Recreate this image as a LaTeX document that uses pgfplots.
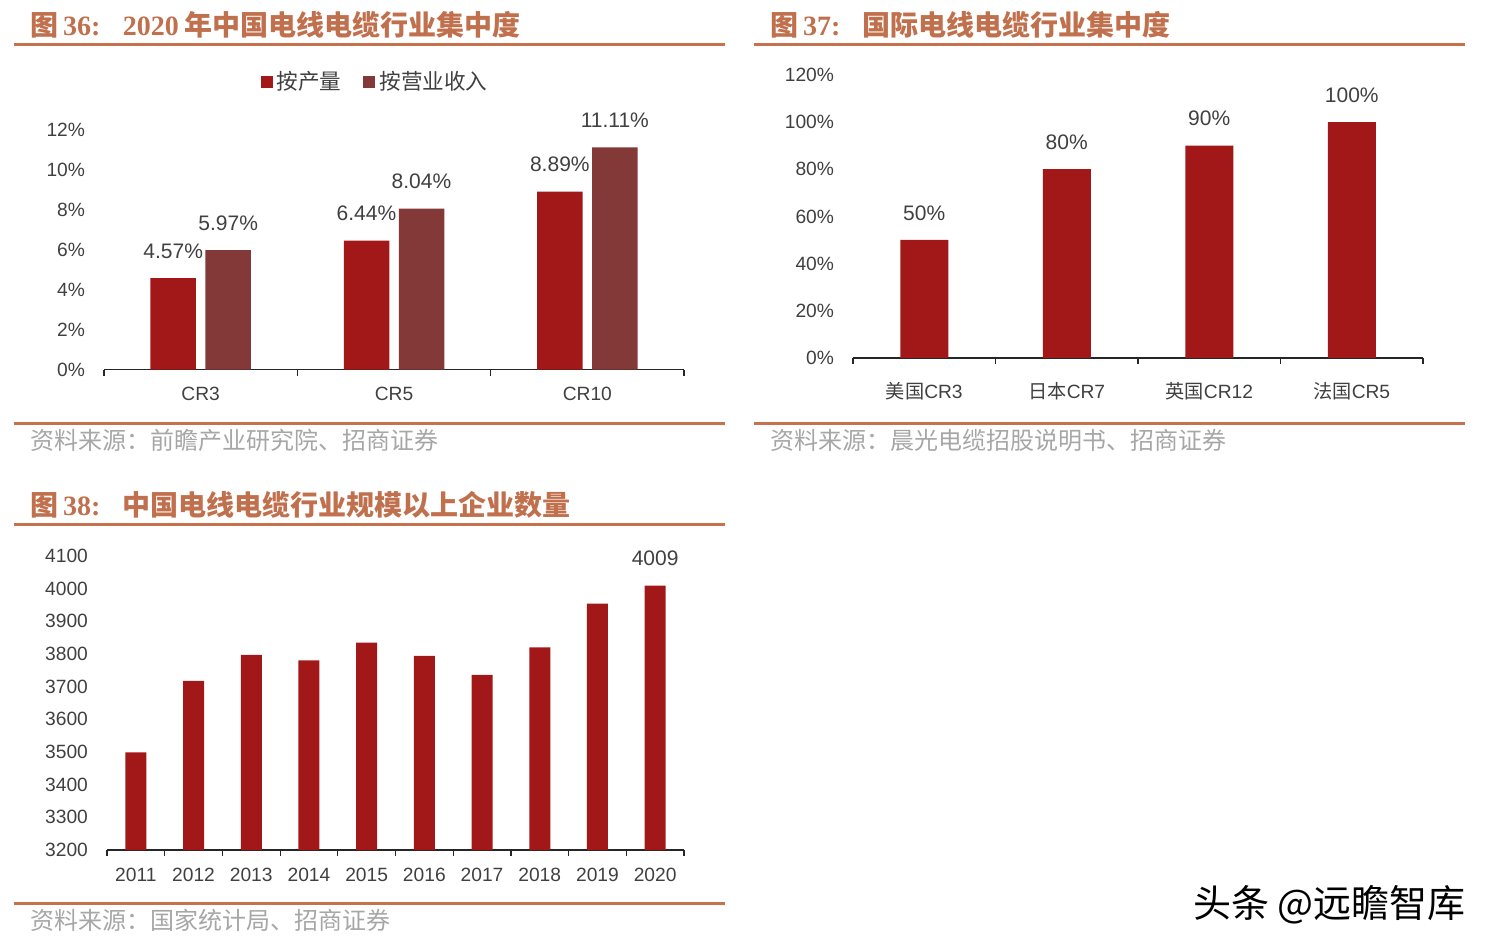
\documentclass[border=0pt]{standalone}
\usepackage{pgfplots}
\pgfplotsset{compat=1.18}
\usepackage{fontspec}
\setmainfont{Liberation Sans}
\newfontfamily\cjk{Noto Sans CJK SC}
\newfontfamily\tnr{Liberation Serif}
\definecolor{barred}{HTML}{A21818}
\definecolor{barbrown}{HTML}{833937}
\definecolor{rulecol}{HTML}{C8714F}
\definecolor{titlecol}{HTML}{C0704C}
\definecolor{srccol}{HTML}{A6A6A6}
\definecolor{txt}{HTML}{404040}

\pgfplotsset{
  panel/.style={
    scale only axis, anchor=south west, clip=false,
    axis x line*=bottom, axis y line*=left,
    y axis line style={draw=none},
    x axis line style={draw=black!85, line width=0.75pt},
    major tick length=0pt,
    minor tick length=3pt, tick align=inside,
    minor x tick style={draw=black!85, line width=0.6pt},
    ticklabel style={text=txt, font=\fontsize{9.6}{11}\selectfont},
    yticklabel style={anchor=east, xshift=-6pt},
    xticklabel style={yshift=-5.5pt},
    /pgf/number format/assume math mode=true,
    nodes near coords style={text=txt, font=\fontsize{10.5}{12}\selectfont, anchor=center, yshift=13.5pt},
  },
  sqlegend/.style={legend image code/.code={\fill[##1] (0pt,-3pt) rectangle (6pt,3pt);}},
}

\begin{document}
\begin{tikzpicture}
\path[use as bounding box] (0,0) rectangle (746pt,-475pt);

% ---- chart 36
\begin{axis}[panel, at={(52pt,-184.75pt)}, width=290pt, height=120pt,
  xmin=-0.5, xmax=2.5, ymin=0, ymax=12,
  xtick={0,1,2}, xticklabels={CR3,CR5,CR10},
  minor xtick={-0.5,0.5,1.5,2.5},
  ytick={0,2,...,12}, yticklabel={\pgfmathprintnumber{\tick}\%},
  ybar=4.75pt, bar width=22.75pt,
  nodes near coords={\pgfmathprintnumber[fixed,fixed zerofill,precision=2]{\pgfplotspointmeta}\%},
  legend style={at={(0.469,1.199)}, anchor=center, draw=none, fill=none,
    legend columns=2, font=\fontsize{10.8}{12}\selectfont\cjk, text=txt,
    /tikz/every even column/.append style={column sep=9pt}},
]
\addplot[fill=barred, draw=none, sqlegend]
  coordinates {(0,4.57) (1,6.44) (2,8.89)};
\addlegendentry{按产量}
\addplot[fill=barbrown, draw=none, sqlegend]
  coordinates {(0,5.97) (1,8.04) (2,11.11)};
\addlegendentry{按营业收入}
\end{axis}

% ---- chart 37
\begin{axis}[panel, at={(426.5pt,-178.95pt)}, width=285pt, height=141.5pt,
  xmin=-0.5, xmax=3.5, ymin=0, ymax=120,
  xtick={0,1,2,3}, xticklabels={{\cjk 美国}CR3,{\cjk 日本}CR7,{\cjk 英国}CR12,{\cjk 法国}CR5},
  xticklabel style={yshift=-3pt},
  minor xtick={-0.5,0.5,1.5,2.5,3.5},
  ytick={0,20,...,120}, yticklabel={\pgfmathprintnumber{\tick}\%},
  ybar, bar width=24pt,
  nodes near coords={\pgfmathprintnumber{\pgfplotspointmeta}\%},
]
\addplot[fill=barred, draw=none] coordinates {(0,50) (1,80) (2,90) (3,100)};
\end{axis}

% ---- chart 38
\begin{axis}[panel, clip=true, at={(53.5pt,-425pt)}, width=288.5pt, height=155.3pt,
  xmin=-0.5, xmax=9.5, ymin=3200, ymax=4150,
  xtick={0,...,9}, xticklabels={2011,2012,2013,2014,2015,2016,2017,2018,2019,2020},
  minor xtick={-0.5,0.5,...,9.5},
  ytick={3200,3300,...,4100},
  /pgf/number format/1000 sep={},
  ybar, bar width=10.5pt,
  point meta=explicit symbolic, nodes near coords,
]
\addplot[fill=barred, draw=none] coordinates {
  (0,3499) [] (1,3717) [] (2,3797) [] (3,3780) [] (4,3834) []
  (5,3794) [] (6,3736) [] (7,3820) [] (8,3954) [] (9,4009) [4009]};
\end{axis}

\begin{scope}[x=0.5pt, y=-0.5pt]
  \draw[rulecol, line width=1.5pt] (14,44) -- (725,44);
  \draw[rulecol, line width=1.5pt] (14,423) -- (725,423);
  \draw[rulecol, line width=1.5pt] (754,44) -- (1465,44);
  \draw[rulecol, line width=1.5pt] (754,423) -- (1465,423);
  \draw[rulecol, line width=1.5pt] (14,524) -- (725,524);
  \draw[rulecol, line width=1.5pt] (14,903) -- (725,903);

  \node[anchor=west, text=titlecol, inner sep=0pt, font=\fontsize{14}{16}\selectfont] at (30,25)
    {{\cjk\bfseries 图}\,{\tnr\bfseries 36:}\hspace{0.8em}{\tnr\bfseries 2020}\hspace{0.2em}{\cjk\bfseries 年中国电线电缆行业集中度}};
  \node[anchor=west, text=titlecol, inner sep=0pt, font=\fontsize{14}{16}\selectfont] at (770,25)
    {{\cjk\bfseries 图}\,{\tnr\bfseries 37:}\hspace{0.8em}{\cjk\bfseries 国际电线电缆行业集中度}};
  \node[anchor=west, text=titlecol, inner sep=0pt, font=\fontsize{14}{16}\selectfont] at (30,505)
    {{\cjk\bfseries 图}\,{\tnr\bfseries 38:}\hspace{0.8em}{\cjk\bfseries 中国电线电缆行业规模以上企业数量}};

  \node[anchor=west, text=srccol, inner sep=0pt, font=\fontsize{12}{14}\selectfont\cjk] at (30,440)
    {资料来源：前瞻产业研究院、招商证券};
  \node[anchor=west, text=srccol, inner sep=0pt, font=\fontsize{12}{14}\selectfont\cjk] at (770,440)
    {资料来源：晨光电缆招股说明书、招商证券};
  \node[anchor=west, text=srccol, inner sep=0pt, font=\fontsize{12}{14}\selectfont\cjk] at (30,920)
    {资料来源：国家统计局、招商证券};

  \node[anchor=east, text=black, inner sep=0pt, font=\fontsize{19}{21}\selectfont\cjk] at (1466,905)
    {头条 @远瞻智库};
\end{scope}
\end{tikzpicture}
\end{document}
